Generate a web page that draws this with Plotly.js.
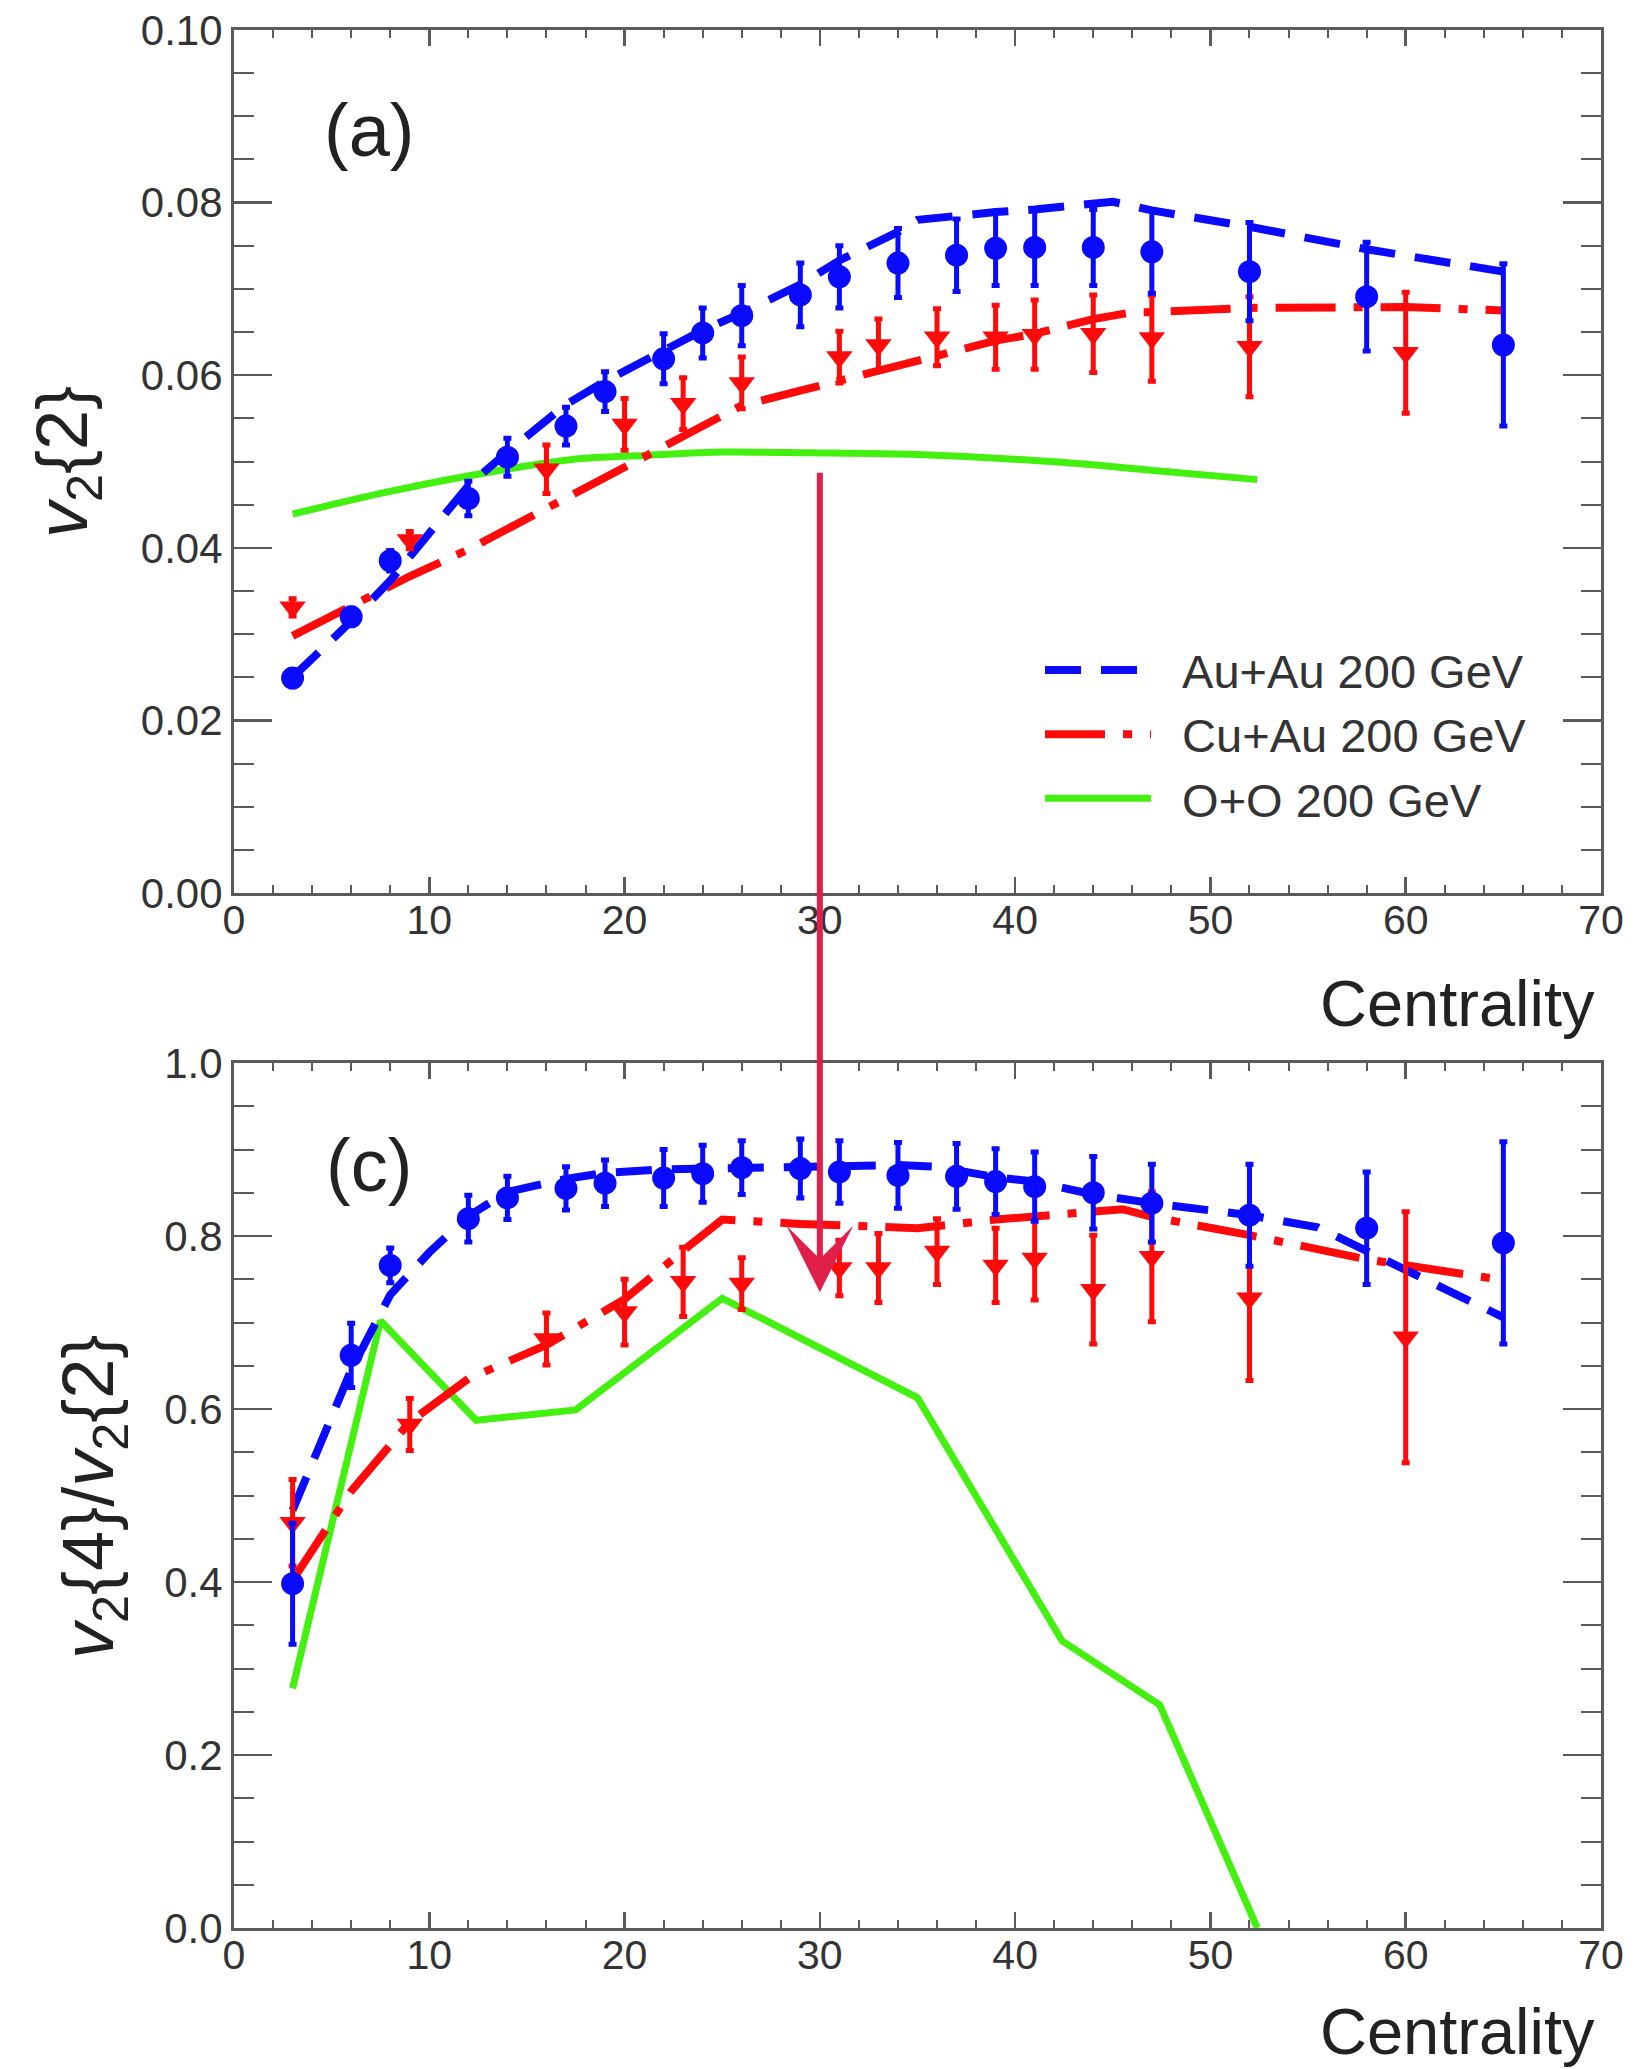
<!DOCTYPE html>
<html>
<head>
<meta charset="utf-8">
<script src="https://cdn.plot.ly/plotly-3.0.1.min.js"></script>
<style>html,body{margin:0;padding:0;background:#fff;}#chart{width:1634px;height:2069px;}</style>
</head>
<body>
<div id="chart"></div>
<script>
// ---------- data: Au+Au 200 GeV (points) ----------
const centAuAu = [3,6,8,12,14,17,19,22,24,26,29,31,34,37,39,41,44,47,52,58,65];
const v22AuAu = [0.0249,0.0320,0.0385,0.0457,0.0505,0.0541,0.0581,0.0619,0.0649,0.0669,0.0693,0.0714,0.0730,0.0739,0.0747,0.0748,0.0748,0.0743,0.0720,0.0691,0.0635];
const v22AuAuErr = [0.001,0.001,0.0012,0.002,0.0022,0.0022,0.0023,0.0029,0.0029,0.0035,0.0037,0.0036,0.004,0.0042,0.0043,0.0044,0.0044,0.0048,0.0057,0.0063,0.0094];
const ratioAuAu = [0.398,0.662,0.766,0.820,0.844,0.855,0.861,0.867,0.872,0.879,0.878,0.874,0.870,0.869,0.863,0.857,0.850,0.838,0.824,0.809,0.792];
const ratioAuAuErr = [0.07,0.037,0.02,0.027,0.025,0.025,0.027,0.033,0.033,0.031,0.034,0.036,0.038,0.038,0.038,0.04,0.042,0.045,0.059,0.065,0.117];

// ---------- data: Cu+Au 200 GeV (points) ----------
const centCuAu = [3,9,16,20,23,26,31,33,36,39,41,44,47,52,60];
const v22CuAu = [0.0331,0.0409,0.0491,0.0543,0.0567,0.0591,0.0621,0.0635,0.0644,0.0644,0.0647,0.0648,0.0643,0.0633,0.0626];
const v22CuAuErr = [0.001,0.001,0.0028,0.003,0.003,0.003,0.003,0.003,0.0033,0.0037,0.004,0.0045,0.005,0.0058,0.007];
const ratioCuAu = [0.4685,0.582,0.681,0.712,0.747,0.745,0.763,0.763,0.782,0.766,0.774,0.738,0.776,0.728,0.683];
const ratioCuAuErr = [0.05,0.03,0.03,0.038,0.04,0.03,0.032,0.04,0.038,0.043,0.048,0.063,0.075,0.095,0.145];

// ---------- model curves (a) v2{2} ----------
const modelAuAuX = [3,6,8,10,12,14,16,17,19,22,24,26,29,31,34,35,37,39,41,44,45,47,52,58,65];
const modelAuAuV22 = [0.0250,0.0315,0.0362,0.0417,0.0472,0.0511,0.0547,0.0566,0.0593,0.0627,0.0652,0.0672,0.0705,0.0733,0.0766,0.0780,0.0785,0.0789,0.0792,0.0800,0.0801,0.0791,0.0772,0.0746,0.0720];
const modelCuAuX = [3,6,9,12,16,20,23,26,29,31,33,36,39,41,44,46,47,52,60,65];
const modelCuAuV22 = [0.0298,0.0332,0.0367,0.0398,0.0446,0.0492,0.0530,0.0565,0.0582,0.0594,0.0606,0.0622,0.0640,0.0648,0.0665,0.0673,0.0673,0.0678,0.0679,0.0675];
const modelOOX = [3,7.5,12.4,17.5,21,25,29.5,35,42.4,47.4,52.4];
const modelOOV22 = [0.0439,0.0463,0.0485,0.0503,0.0507,0.0511,0.0510,0.0508,0.0499,0.0489,0.0479];

// ---------- model curves (c) v2{4}/v2{2} ----------
const modelAuAuRX = [3,6,8,10,12,14,17,19,22,24,26,29,31,34,36,39,41,44,47,52,55.5,58,65];
const modelAuAuRatio = [0.483,0.645,0.732,0.781,0.823,0.851,0.866,0.873,0.877,0.878,0.879,0.880,0.882,0.882,0.880,0.868,0.863,0.848,0.838,0.824,0.810,0.782,0.706];
const modelCuAuRX = [3,6,9,12,16,20,23,25,29,33,35,39,41,44,45.5,47,52,58,65];
const modelCuAuRatio = [0.402,0.505,0.585,0.635,0.674,0.727,0.783,0.819,0.814,0.810,0.809,0.819,0.823,0.830,0.831,0.822,0.801,0.773,0.749];
const modelOORX = [3,7.5,12.4,17.5,25,35,42.4,47.4,52.4];
const modelOORatio = [0.277,0.702,0.587,0.599,0.728,0.613,0.332,0.258,0.0];

// ---------- labels ----------
const legendNames = ['Au+Au 200 GeV','Cu+Au 200 GeV','O+O 200 GeV'];
const xTitle = 'Centrality';
const yTitleTop = '<i>v</i><sub>2</sub>{2}';
const yTitleBottom = '<i>v</i><sub>2</sub>{4}/<i>v</i><sub>2</sub>{2}';

const BLUE = '#0a0aff', RED = '#ff0a0a', GREEN = '#44f010', ARROW = '#e0204a';
const FONT = 'Liberation Sans, Arial, Helvetica, sans-serif';
const AX = '#5a5a5a';
const NB = '\u00a0\u00a0';

const blueDash = '36px,20px';
const redDashDot = '60px,18px,9px,18px';

function model(x, y, xa, ya, color, dash, name, show, rank, width, shape) {
  return {x: x, y: y, xaxis: xa, yaxis: ya, type: 'scatter', mode: 'lines', name: NB + name,
    showlegend: show, legendrank: rank, hoverinfo: 'skip',
    line: {color: color, width: width, dash: dash, shape: shape || 'linear', smoothing: 0.8}};
}
function points(x, y, err, xa, ya, color, symbol, size) {
  return {x: x, y: y, xaxis: xa, yaxis: ya, type: 'scatter', mode: 'markers', showlegend: false,
    marker: {color: color, symbol: symbol, size: size, line: {width: 0}},
    error_y: {type: 'data', array: err, visible: true, color: color, thickness: 5, width: 4}};
}

const data = [
  model(modelOOX, modelOOV22, 'x', 'y', GREEN, 'solid', legendNames[2], true, 3, 7, 'spline'),
  model(modelCuAuX, modelCuAuV22, 'x', 'y', RED, redDashDot, legendNames[1], true, 2, 8),
  model(modelAuAuX, modelAuAuV22, 'x', 'y', BLUE, blueDash, legendNames[0], true, 1, 8),
  points(centCuAu, v22CuAu, v22CuAuErr, 'x', 'y', RED, 'triangle-down', 23),
  points(centAuAu, v22AuAu, v22AuAuErr, 'x', 'y', BLUE, 'circle', 23),

  model(modelOORX, modelOORatio, 'x2', 'y2', GREEN, 'solid', legendNames[2], false, 3, 7),
  model(modelCuAuRX, modelCuAuRatio, 'x2', 'y2', RED, redDashDot, legendNames[1], false, 2, 8),
  model(modelAuAuRX, modelAuAuRatio, 'x2', 'y2', BLUE, blueDash, legendNames[0], false, 1, 8),
  points(centCuAu, ratioCuAu, ratioCuAuErr, 'x2', 'y2', RED, 'triangle-down', 23),
  points(centAuAu, ratioAuAu, ratioAuAuErr, 'x2', 'y2', BLUE, 'circle', 23)
];

const W = 1634, H = 2069;
const xDom = [234 / W, 1601 / W];
const yDomTop = [1 - 893 / H, 1 - 30 / H];
const yDomBot = [1 - 1928 / H, 1 - 1063 / H];

function xAxis(anchor) {
  return {domain: xDom, anchor: anchor, range: [0, 70], dtick: 10, tick0: 0,
    ticks: 'inside', ticklen: 16, tickwidth: 2.5, tickcolor: AX, mirror: 'ticks',
    showline: true, linecolor: AX, linewidth: 3, showgrid: false, zeroline: false,
    tickfont: {family: FONT, size: 41, color: '#333'}, ticklabelstandoff: -11,
    minor: {dtick: 2, ticks: 'inside', ticklen: 8, tickwidth: 2, tickcolor: AX, showgrid: false},
    fixedrange: true};
}
function yAxis(anchor, dom, range, dtick, minor, fmt) {
  return {domain: dom, anchor: anchor, range: range, dtick: dtick, tick0: 0, tickformat: fmt,
    ticks: 'inside', ticklen: 38, tickwidth: 2.5, tickcolor: AX, mirror: 'ticks',
    showline: true, linecolor: AX, linewidth: 3, showgrid: false, zeroline: false,
    tickfont: {family: FONT, size: 42, color: '#333'}, ticklabelstandoff: 0,
    minor: {dtick: minor, ticks: 'inside', ticklen: 20, tickwidth: 2, tickcolor: AX, showgrid: false},
    fixedrange: true};
}

const layout = {
  width: W, height: H,
  margin: {l: 0, r: 0, t: 0, b: 0},
  paper_bgcolor: '#fff', plot_bgcolor: '#fff',
  font: {family: FONT, color: '#222'},
  xaxis: xAxis('y'),
  yaxis: yAxis('x', yDomTop, [0, 0.1], 0.02, 0.005, '.2f'),
  xaxis2: xAxis('y2'),
  yaxis2: yAxis('x2', yDomBot, [0, 1], 0.2, 0.05, '.1f'),
  legend: {x: 1040 / W, y: 1 - 633 / H, xanchor: 'left', yanchor: 'top',
    bgcolor: 'rgba(0,0,0,0)', borderwidth: 0, itemwidth: 106, tracegroupgap: 0,
    font: {family: FONT, size: 47, color: '#333'}},
  annotations: [
    {xref: 'x', yref: 'y', x: 6.9, y: 0.0884, text: '(a)', showarrow: false,
      font: {family: FONT, size: 74, color: '#222'}},
    {xref: 'x2', yref: 'y2', x: 6.9, y: 0.881, text: '(c)', showarrow: false,
      font: {family: FONT, size: 74, color: '#222'}},
    {xref: 'paper', yref: 'paper', x: 1597 / W, y: 1 - 1003 / H, xanchor: 'right', yanchor: 'middle',
      text: xTitle, showarrow: false, font: {family: FONT, size: 65, color: '#222'}},
    {xref: 'paper', yref: 'paper', x: 1597 / W, y: 1 - 2031 / H, xanchor: 'right', yanchor: 'middle',
      text: xTitle, showarrow: false, font: {family: FONT, size: 65, color: '#222'}},
    {xref: 'paper', yref: 'paper', x: 68 / W, y: 1 - 462 / H, xanchor: 'center', yanchor: 'middle',
      text: yTitleTop, textangle: -90, showarrow: false, font: {family: FONT, size: 72, color: '#222'}},
    {xref: 'paper', yref: 'paper', x: 93 / W, y: 1 - 1497 / H, xanchor: 'center', yanchor: 'middle',
      text: yTitleBottom, textangle: -90, showarrow: false, font: {family: FONT, size: 72, color: '#222'}},
    {xref: 'x2', yref: 'y2', x: 30, y: 0.735, ax: 0, ay: -821, text: '', showarrow: true,
      arrowhead: 3, arrowsize: 1.85, arrowwidth: 6, arrowcolor: ARROW, standoff: 0}
  ]
};

Plotly.newPlot('chart', data, layout, {staticPlot: true, displayModeBar: false});
</script>
</body>
</html>
